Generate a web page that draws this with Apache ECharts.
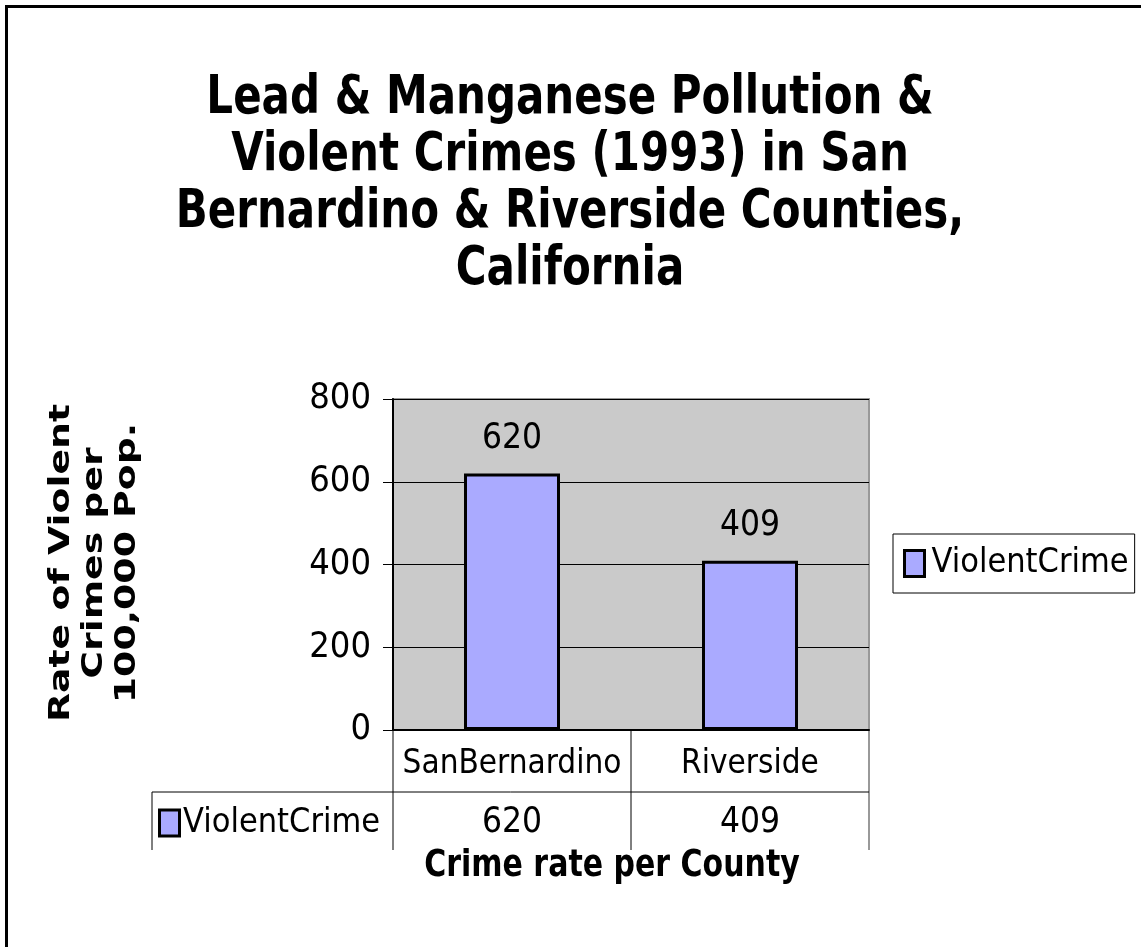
<!DOCTYPE html>
<html>
<head>
    <meta charset="UTF-8">
    <title>Violent Crimes 1993</title>
    <style>
        body, html {
            margin: 0;
            padding: 0;
            background: #fff;
        }
        #container {
            width: 1141px;
            height: 947px;
        }
    </style>
</head>
<body>
<div id="container"></div>

<script src="https://cdn.jsdelivr.net/npm/echarts@6/dist/echarts.min.js"></script>
<script>
    // data
    var categories = ['SanBernardino', 'Riverside'];
    var seriesName = 'ViolentCrime';
    var violentCrime = [620, 409];
    var yMin = 0, yMax = 800, yStep = 200;

    var titleLines = ['Lead & Manganese Pollution &', 'Violent Crimes (1993) in San',
        'Bernardino & Riverside Counties,', 'California'];
    var yTitleLines = ['Rate of Violent', 'Crimes per', '100,000 Pop.'];
    var xTitle = 'Crime rate per County';

    var narrow = '"DejaVu Sans Condensed", "Liberation Sans Narrow", sans-serif';
    var boldFont = '"DejaVu Sans", Verdana, sans-serif';
    var barColor = '#AAAAFF';

    // plot box + data table below it
    var plot = {left: 393, top: 399, right: 869, bottom: 730};
    var rowLine = 792, tableBottom = 850, tableLeft = 152;

    var chart = echarts.init(document.getElementById('container'));

    chart.setOption({
        animation: false,
        grid: {
            left: plot.left,
            top: plot.top,
            width: plot.right - plot.left,
            height: plot.bottom - plot.top,
            show: true,
            backgroundColor: '#CACACA',
            borderColor: '#999',
            borderWidth: 2
        },
        legend: {
            data: [seriesName],
            left: 893,
            top: 534,
            orient: 'vertical',
            padding: [11, 6, 11, 10],
            borderColor: '#000',
            borderWidth: 1,
            itemWidth: 20,
            itemHeight: 26,
            itemGap: 0,
            icon: 'rect',
            itemStyle: {borderColor: '#000', borderWidth: 3},
            textStyle: {fontFamily: narrow, fontSize: 34, lineHeight: 37, color: '#000', padding: [0, 0, 0, 2]}
        },
        xAxis: {
            type: 'category',
            data: categories,
            axisLine: {lineStyle: {color: '#000', width: 2}},
            axisTick: {show: false},
            axisLabel: {
                interval: 0,
                fontFamily: narrow, fontSize: 33, lineHeight: 36,
                color: '#000', margin: 16
            }
        },
        yAxis: {
            type: 'value',
            min: yMin,
            max: yMax,
            interval: yStep,
            axisLine: {show: true, lineStyle: {color: '#000', width: 2}},
            axisTick: {show: true, length: 10, lineStyle: {color: '#000', width: 1}},
            axisLabel: {fontFamily: narrow, fontSize: 36, color: '#000', margin: 22},
            splitLine: {lineStyle: {color: '#000', width: 1}}
        },
        series: [{
            name: seriesName,
            type: 'bar',
            barWidth: 96,
            data: violentCrime,
            itemStyle: {color: barColor, borderColor: '#000', borderWidth: 3},
            label: {
                show: true,
                position: 'top',
                distance: 17,
                fontFamily: narrow,
                fontSize: 35,
                color: '#000'
            }
        }]
    });

    // table + titles, positioned from the axis scale
    var xs = categories.map(function (c) {
        return chart.convertToPixel({xAxisIndex: 0}, c);
    });
    var rowMid = 823;
    var divider = (xs[0] + xs[1]) / 2;

    var graphic = [
        {type: 'rect', silent: true, shape: {x: 6.5, y: 6.5, width: 1300, height: 1100},
            style: {fill: null, stroke: '#000', lineWidth: 3}},
        {type: 'text', x: 570, y: 71, scaleY: 1.28, style: {
            text: titleLines.join('\n'), fontFamily: boldFont, fontSize: 42, fontWeight: 'bold',
            lineHeight: 44.5, align: 'center', verticalAlign: 'top', fill: '#000'}},
        {type: 'text', x: 95, y: 563, rotation: Math.PI / 2, scaleX: 1.35, style: {
            text: yTitleLines.join('\n'), fontFamily: boldFont, fontSize: 28, fontWeight: 'bold',
            lineHeight: 33, align: 'center', verticalAlign: 'middle', fill: '#000'}},
        {type: 'text', x: 612, y: 866, scaleY: 1.22, style: {
            text: xTitle, fontFamily: boldFont, fontSize: 30, fontWeight: 'bold',
            align: 'center', verticalAlign: 'middle', fill: '#000'}},
        // table lines
        {type: 'line', shape: {x1: plot.left, y1: plot.bottom, x2: plot.left, y2: tableBottom},
            style: {stroke: '#000', lineWidth: 1}},
        {type: 'line', shape: {x1: divider, y1: plot.bottom, x2: divider, y2: tableBottom},
            style: {stroke: '#000', lineWidth: 1}},
        {type: 'line', shape: {x1: plot.right, y1: plot.bottom, x2: plot.right, y2: tableBottom},
            style: {stroke: '#999', lineWidth: 2}},
        {type: 'line', shape: {x1: tableLeft, y1: rowLine, x2: plot.right, y2: rowLine},
            style: {stroke: '#000', lineWidth: 1}},
        {type: 'line', shape: {x1: tableLeft, y1: rowLine, x2: tableLeft, y2: tableBottom},
            style: {stroke: '#000', lineWidth: 1}},
        // legend key in table
        {type: 'rect', shape: {x: tableLeft + 7.5, y: rowMid - 13, width: 20, height: 26},
            style: {fill: barColor, stroke: '#000', lineWidth: 3}},
        {type: 'text', x: tableLeft + 31, y: rowMid, style: {
            text: seriesName, fontFamily: narrow, fontSize: 34, align: 'left',
            verticalAlign: 'middle', fill: '#000'}}
    ];
    violentCrime.forEach(function (v, i) {
        graphic.push({type: 'text', x: xs[i], y: rowMid, style: {
            text: String(v), fontFamily: narrow, fontSize: 35, align: 'center',
            verticalAlign: 'middle', fill: '#000'}});
    });

    chart.setOption({graphic: graphic});
</script>
</body>
</html>
